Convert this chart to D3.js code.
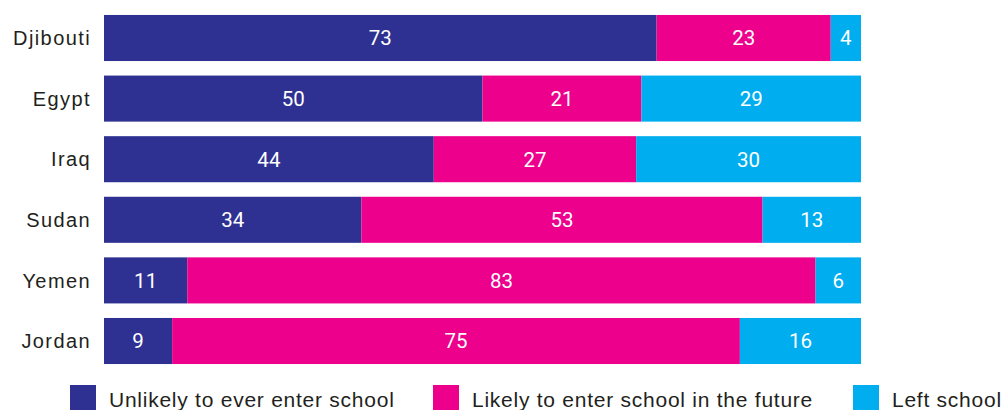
<!DOCTYPE html>
<html><head><meta charset="utf-8">
<script src="https://cdn.jsdelivr.net/npm/d3@7"></script>
<style>body{margin:0;background:#fff;}svg{display:block;}</style>
</head><body>
<svg id="c" width="1003" height="410"></svg>
<script>
const countries = ["Djibouti","Egypt","Iraq","Sudan","Yemen","Jordan"];
const unlikely = [73,50,44,34,11,9];
const likely = [23,21,27,53,83,75];
const left = [4,29,30,13,6,16];
const seriesNames = ["Unlikely to ever enter school","Likely to enter school in the future","Left school"];
const colors = ["#2e3192","#ec008c","#00aeef"];

const svg = d3.select("#c");
const x = d3.scaleLinear().domain([0,1]).range([104,861]);
const y = d3.scaleBand().domain(countries).range([7.7,371.3]).paddingInner(0.24).paddingOuter(0.12);
const vals = [unlikely, likely, left];

countries.forEach((c,i)=>{
  const row = vals.map(v=>v[i]);
  const total = d3.sum(row);
  let cum = 0;
  row.forEach((v,k)=>{
    const x0 = x(cum/total), x1 = x((cum+v)/total);
    svg.append("rect").attr("x",x0).attr("y",y(c)).attr("width",x1-x0).attr("height",y.bandwidth()).attr("fill",colors[k]);
    svg.append("text").attr("x",(x0+x1)/2).attr("y",y(c)+y.bandwidth()/2).attr("dy","0.36em")
      .attr("text-anchor","middle").attr("fill","#fff").attr("font-family","Roboto, sans-serif").attr("font-size",20.5).text(v);
    cum += v;
  });
  svg.append("text").attr("x",91).attr("y",y(c)+y.bandwidth()/2).attr("dy","0.36em").attr("text-anchor","end")
    .attr("fill","#231f20").attr("font-family","Liberation Sans, Arial, sans-serif").attr("font-size",20)
    .attr("letter-spacing",1.4).text(c);
});

const legX = [70,433,853];
seriesNames.forEach((s,k)=>{
  svg.append("rect").attr("x",legX[k]).attr("y",385).attr("width",26).attr("height",27).attr("fill",colors[k]);
  svg.append("text").attr("x",legX[k]+39).attr("y",407).attr("fill","#231f20")
    .attr("font-family","Liberation Sans, Arial, sans-serif").attr("font-size",21).attr("letter-spacing",0.75).text(s);
});
</script>
</body></html>
